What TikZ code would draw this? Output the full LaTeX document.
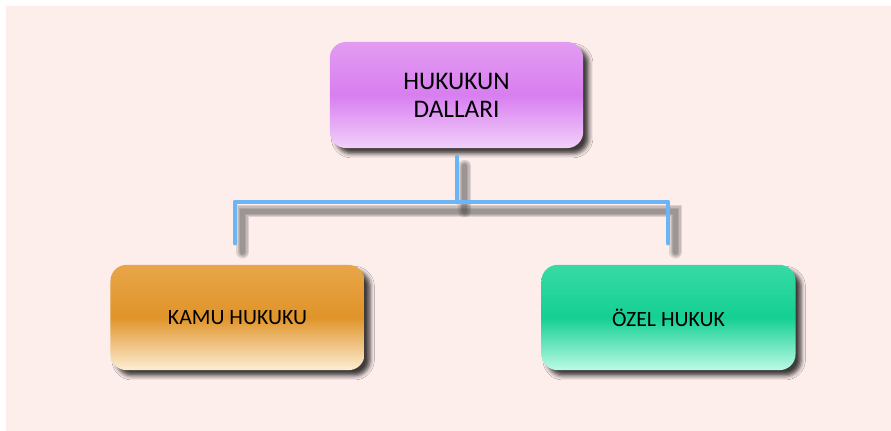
\documentclass[tikz,border=0pt]{standalone}
\usepackage{fontspec}
\setmainfont{Carlito}
\usetikzlibrary{shadows.blur}

\definecolor{bgpink}{HTML}{FDEEEC}
\definecolor{linkblue}{HTML}{6CB5F5}

\begin{document}
\begin{tikzpicture}[x = 0.025cm, y = -0.025cm,
		box/.style = {draw = none, rounded corners = 0.4cm, align = center,
			minimum width = 6.35cm, minimum height = 2.63cm,
			blur shadow = {shadow xshift = 4pt, shadow yshift = -4pt,
				shadow blur radius = 3pt, shadow opacity = 75}},
		link/.style = {line width = 3.5pt, line cap = round, line join = round, linkblue},
		linkshadow/.style = {line cap = round, black!75, opacity = 0.16,
			transform canvas = {xshift = 5.5pt, yshift = -6.5pt}}]

	\useasboundingbox [fill = white] (0, 0) rectangle (891, 430);
	\fill [bgpink] (6, 6) rectangle (900, 440);

	\node [box, top color = {rgb,255:red,226;green,156;blue,240}, bottom color = {rgb,255:red,242;green,208;blue,250}, middle color = {rgb,255:red,216;green,126;blue,240}, minimum width = 6.33cm, minimum height = 2.65cm, font = \fontsize{18}{20}\selectfont] (hukuk) at (456.5, 95) {HUKUKUN\\DALLARI};
	\node [box, top color = {rgb,255:red,232;green,166;blue,72}, bottom color = {rgb,255:red,253;green,238;blue,212}, middle color = {rgb,255:red,224;green,148;blue,42}, font = \fontsize{15.5}{18}\selectfont] (kamu) at (237.5, 317.5) {KAMU HUKUKU};
	\node [box, top color = {rgb,255:red,56;green,218;blue,164}, bottom color = {rgb,255:red,188;green,250;blue,230}, middle color = {rgb,255:red,20;green,208;blue,146}, font = \fontsize{15.5}{18}\selectfont] (ozel) at (668.5, 317.5) {ÖZEL HUKUK};

	\coordinate (top) at (457, 157);
	\coordinate (mid) at (457, 202);
	\coordinate (l1) at (235, 202);
	\coordinate (l2) at (235, 243);
	\coordinate (r1) at (668, 202);
	\coordinate (r2) at (668, 243);

	% soft shadow of the connector
	\foreach \w in {9, 7, 5, 3.5} {
		\draw [linkshadow, line width = \w pt] (top) -- (mid);
		\draw [linkshadow, line width = \w pt] (l2) -- (l1) -- (r1) -- (r2);
	}

	\draw [link] (top) -- (mid);
	\draw [link] (l2) -- (l1) -- (r1) -- (r2);
\end{tikzpicture}
\end{document}
